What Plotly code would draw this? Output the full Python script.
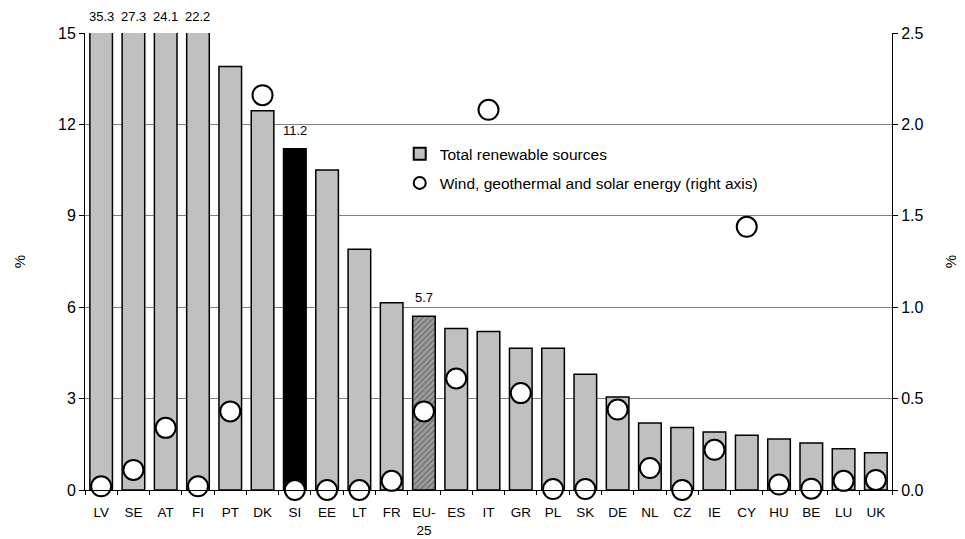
import plotly.graph_objects as go

countries = ["LV", "SE", "AT", "FI", "PT", "DK", "SI", "EE", "LT", "FR", "EU-25", "ES",
             "IT", "GR", "PL", "SK", "DE", "NL", "CZ", "IE", "CY", "HU", "BE", "LU", "UK"]
tick_labels = ["LV", "SE", "AT", "FI", "PT", "DK", "SI", "EE", "LT", "FR", "EU-<br>25", "ES",
               "IT", "GR", "PL", "SK", "DE", "NL", "CZ", "IE", "CY", "HU", "BE", "LU", "UK"]
total_renewable = [35.3, 27.3, 24.1, 22.2, 13.9, 12.45, 11.2, 10.5, 7.9, 6.15, 5.7, 5.3,
                   5.2, 4.65, 4.65, 3.8, 3.05, 2.2, 2.05, 1.9, 1.8, 1.67, 1.54, 1.35, 1.22]
wind_geo_solar = [0.02, 0.11, 0.34, 0.02, 0.43, 2.16, 0.0, 0.0, 0.0, 0.05, 0.43, 0.61,
                  2.08, 0.53, 0.005, 0.005, 0.44, 0.12, 0.0, 0.22, 1.44, 0.03, 0.007, 0.05, 0.055]
labelled = {"LV": "35.3", "SE": "27.3", "AT": "24.1", "FI": "22.2", "SI": "11.2", "EU-25": "5.7"}

FONT = "Liberation Sans, Arial, sans-serif"

bar_colors = []
pattern_shapes = []
for c in countries:
    if c == "SI":
        bar_colors.append("#000000")
        pattern_shapes.append("")
    elif c == "EU-25":
        bar_colors.append("#a0a0a0")
        pattern_shapes.append("/")
    else:
        bar_colors.append("#c0c0c0")
        pattern_shapes.append("")

fig = go.Figure()
fig.add_trace(go.Bar(
    x=countries, y=total_renewable, name="Total renewable sources",
    marker=dict(color=bar_colors, line=dict(color="#000000", width=1.5),
                pattern=dict(shape=pattern_shapes, fgcolor="#303030", bgcolor="#a8a8a8",
                             size=4, solidity=0.4)),
    legendgroup="a", cliponaxis=True,
))
fig.add_trace(go.Scatter(
    x=countries, y=wind_geo_solar, yaxis="y2", mode="markers",
    name="Wind, geothermal and solar energy (right axis)",
    marker=dict(symbol="circle", size=20, color="#ffffff", line=dict(color="#000000", width=2)),
    legendgroup="b", cliponaxis=False,
))

for c, v in zip(countries, total_renewable):
    if c in labelled:
        if v > 15:
            fig.add_annotation(x=c, y=15, yref="y", text=labelled[c], showarrow=False,
                               yanchor="bottom", yshift=7, font=dict(size=13, family=FONT, color="#000"))
        else:
            fig.add_annotation(x=c, y=v, yref="y", text=labelled[c], showarrow=False,
                               yanchor="bottom", yshift=9, font=dict(size=13, family=FONT, color="#000"))

fig.update_layout(
    width=965, height=539,
    margin=dict(l=77, r=81, t=25, b=57, autoexpand=False),
    paper_bgcolor="#ffffff", plot_bgcolor="#ffffff",
    font=dict(family=FONT, size=13, color="#000000"),
    bargap=0.3,
    showlegend=True,
    legend=dict(x=0.39, y=0.772, xanchor="left", yanchor="top", bgcolor="rgba(0,0,0,0)",
                font=dict(size=15.5, family=FONT), tracegroupgap=6, traceorder="grouped",
                itemsizing="constant"),
    xaxis=dict(type="category", tickmode="array", tickvals=countries, ticktext=tick_labels,
               tickson="boundaries", ticks="outside", ticklen=4, tickcolor="#000",
               showline=True, linecolor="#000", linewidth=1, tickfont=dict(size=13.5, family=FONT),
               ticklabelstandoff=10,
               showgrid=False, range=[-0.5, len(countries) - 0.5]),
    yaxis=dict(range=[0, 15], dtick=3, tick0=0, showgrid=True, gridcolor="#808080", gridwidth=1,
               ticks="outside", ticklen=5, tickcolor="#000", showline=True, linecolor="#000",
               linewidth=1, tickfont=dict(size=16, family=FONT), zeroline=False,
               title=dict(text="%", font=dict(size=15, family=FONT), standoff=28)),
    yaxis2=dict(range=[0, 2.5], dtick=0.5, tick0=0, tickformat=".1f", overlaying="y", side="right",
                showgrid=False, ticks="outside", ticklen=5, tickcolor="#000", showline=True,
                linecolor="#000", linewidth=1, tickfont=dict(size=16, family=FONT), zeroline=False,
                title=dict(text="%", font=dict(size=15, family=FONT), standoff=22)),
)

fig.write_html("out.html")
